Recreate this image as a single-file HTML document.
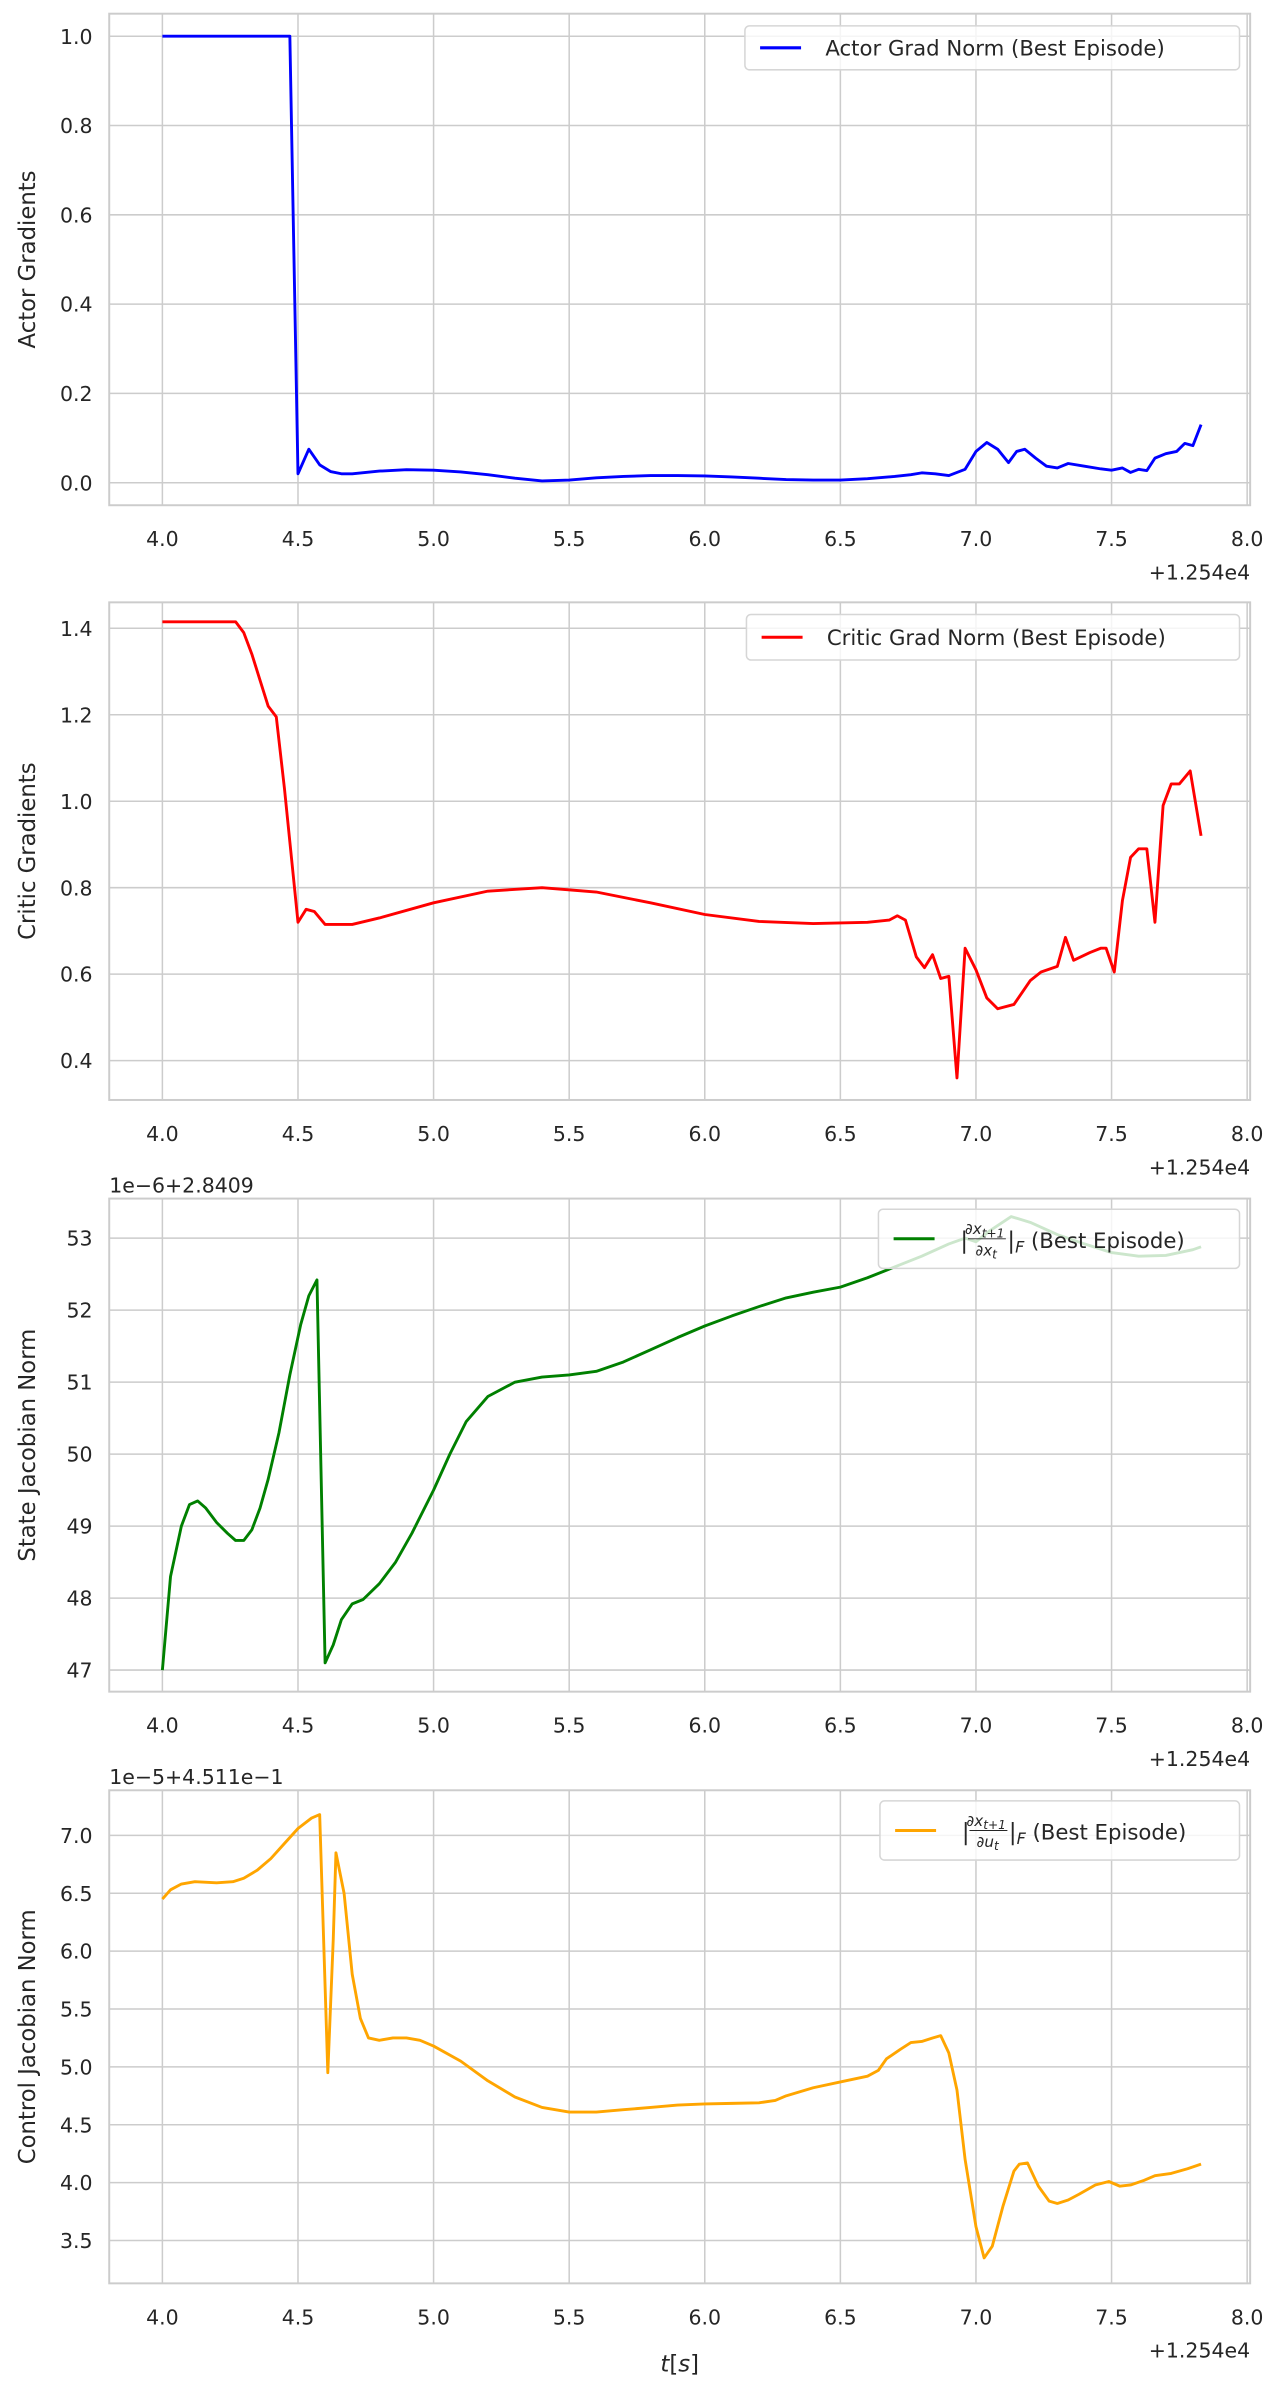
<!DOCTYPE html>
<html><head><meta charset="utf-8"><style>
html,body{margin:0;padding:0;background:#fff;}
svg{display:block;font-family:"DejaVu Sans","Liberation Sans",sans-serif;}
</style></head><body>
<svg id="chart" width="1282" height="2382" viewBox="0 0 845 1570" xmlns="http://www.w3.org/2000/svg"></svg>
<script>
const actorT=[4.0,4.47,4.5,4.54,4.58,4.62,4.66,4.7,4.8,4.9,5.0,5.1,5.2,5.3,5.4,5.5,5.6,5.7,5.8,5.9,6.0,6.1,6.2,6.3,6.4,6.5,6.6,6.7,6.76,6.8,6.85,6.9,6.96,7.0,7.04,7.08,7.12,7.15,7.18,7.22,7.26,7.3,7.34,7.4,7.46,7.5,7.54,7.57,7.6,7.63,7.66,7.7,7.74,7.77,7.8,7.83];
const actorV=[1.0,1.0,0.02,0.075,0.04,0.025,0.02,0.02,0.026,0.029,0.028,0.024,0.018,0.01,0.004,0.006,0.011,0.014,0.016,0.016,0.015,0.013,0.01,0.007,0.006,0.006,0.009,0.014,0.018,0.022,0.02,0.016,0.03,0.07,0.09,0.075,0.045,0.07,0.075,0.055,0.037,0.033,0.043,0.037,0.031,0.028,0.033,0.023,0.03,0.027,0.055,0.065,0.07,0.088,0.083,0.13];
const criticT=[4.0,4.27,4.3,4.33,4.36,4.39,4.42,4.45,4.5,4.53,4.56,4.6,4.7,4.8,5.0,5.2,5.4,5.6,5.8,6.0,6.2,6.4,6.6,6.68,6.71,6.74,6.78,6.81,6.84,6.87,6.9,6.93,6.96,7.0,7.04,7.08,7.14,7.2,7.24,7.3,7.33,7.36,7.42,7.46,7.48,7.51,7.54,7.57,7.6,7.63,7.66,7.69,7.72,7.75,7.79,7.83];
const criticV=[1.415,1.415,1.39,1.34,1.28,1.22,1.195,1.03,0.72,0.75,0.745,0.715,0.715,0.73,0.765,0.792,0.8,0.79,0.765,0.738,0.722,0.717,0.72,0.725,0.735,0.725,0.64,0.615,0.645,0.59,0.595,0.36,0.66,0.61,0.545,0.52,0.53,0.585,0.605,0.618,0.685,0.632,0.65,0.66,0.66,0.605,0.77,0.87,0.89,0.89,0.72,0.99,1.04,1.04,1.07,0.92];
const stateT=[4.0,4.03,4.07,4.1,4.13,4.16,4.2,4.24,4.27,4.3,4.33,4.36,4.39,4.43,4.47,4.51,4.54,4.57,4.6,4.63,4.66,4.7,4.74,4.8,4.86,4.92,5.0,5.06,5.12,5.2,5.3,5.4,5.5,5.6,5.7,5.8,5.9,6.0,6.1,6.2,6.3,6.4,6.5,6.6,6.7,6.8,6.9,6.96,7.0,7.05,7.13,7.2,7.3,7.4,7.5,7.6,7.7,7.8,7.83];
const stateV=[47.0,48.3,49.0,49.3,49.35,49.25,49.05,48.9,48.8,48.8,48.95,49.25,49.65,50.3,51.1,51.8,52.2,52.42,47.1,47.35,47.7,47.92,47.98,48.2,48.5,48.9,49.5,50.0,50.45,50.8,51.0,51.07,51.1,51.15,51.28,51.45,51.62,51.78,51.92,52.05,52.17,52.25,52.32,52.45,52.6,52.75,52.92,53.0,52.95,53.1,53.3,53.22,53.05,52.92,52.8,52.75,52.76,52.84,52.88];
const controlT=[4.0,4.03,4.07,4.12,4.2,4.26,4.3,4.35,4.4,4.45,4.5,4.55,4.58,4.61,4.63,4.64,4.67,4.7,4.73,4.76,4.8,4.85,4.9,4.95,5.0,5.1,5.2,5.3,5.4,5.5,5.6,5.7,5.8,5.9,6.0,6.1,6.2,6.26,6.3,6.4,6.5,6.6,6.64,6.67,6.72,6.76,6.8,6.84,6.87,6.9,6.93,6.96,7.0,7.03,7.06,7.1,7.14,7.16,7.19,7.23,7.27,7.3,7.34,7.38,7.44,7.49,7.53,7.57,7.62,7.66,7.72,7.78,7.83];
const controlV=[6.45,6.53,6.58,6.6,6.59,6.6,6.63,6.7,6.8,6.93,7.06,7.15,7.18,4.95,6.1,6.85,6.5,5.8,5.42,5.25,5.23,5.25,5.25,5.23,5.18,5.05,4.88,4.74,4.65,4.61,4.61,4.63,4.65,4.67,4.68,4.685,4.69,4.71,4.75,4.82,4.87,4.92,4.97,5.07,5.15,5.21,5.22,5.25,5.27,5.12,4.8,4.2,3.62,3.35,3.45,3.8,4.1,4.16,4.17,3.97,3.84,3.82,3.85,3.9,3.98,4.01,3.97,3.98,4.02,4.06,4.08,4.12,4.16];
const xTicks=[4.0,4.5,5.0,5.5,6.0,6.5,7.0,7.5,8.0];
const actorTicks=[0.0,0.2,0.4,0.6,0.8,1.0];
const criticTicks=[0.4,0.6,0.8,1.0,1.2,1.4];
const stateTicks=[47,48,49,50,51,52,53];
const controlTicks=[3.5,4.0,4.5,5.0,5.5,6.0,6.5,7.0];

const NS="http://www.w3.org/2000/svg";
const svg=document.getElementById('chart');
function mk(tag,attrs,parent){const e=document.createElementNS(NS,tag);for(const k in attrs)e.setAttribute(k,attrs[k]);(parent||svg).appendChild(e);return e;}
const L=72,R=824,XMIN=3.804,XMAX=8.011;
function xs(v){return L+(v-XMIN)/(XMAX-XMIN)*(R-L);}

const panels=[
 {key:'actor',top:9,bot:333,ymin:-0.0505,ymax:1.0505,ticks:actorTicks,fmt:v=>v.toFixed(1),t:actorT,v:actorV,color:'#0000ff',ylabel:'Actor Gradients',legend:'plain',ltext:'Actor Grad Norm (Best Episode)',lx:491,ly:17,lw:326,lh:29,offset:null},
 {key:'critic',top:397,bot:725,ymin:0.309,ymax:1.46,ticks:criticTicks,fmt:v=>v.toFixed(1),t:criticT,v:criticV,color:'#ff0000',ylabel:'Critic Gradients',legend:'plain',ltext:'Critic Grad Norm (Best Episode)',lx:492,ly:405,lw:325,lh:30,offset:null},
 {key:'state',top:790,bot:1115,ymin:46.7,ymax:53.55,ticks:stateTicks,fmt:v=>String(v),t:stateT,v:stateV,color:'#008000',ylabel:'State Jacobian Norm',legend:'math',den:'∂x',lx:579,ly:797,lw:238,lh:39,offset:'1e−6+2.8409'},
 {key:'control',top:1180,bot:1505,ymin:3.13,ymax:7.39,ticks:controlTicks,fmt:v=>v.toFixed(1),t:controlT,v:controlV,color:'#ffa500',ylabel:'Control Jacobian Norm',legend:'math',den:'∂u',lx:580,ly:1187,lw:237,lh:39,offset:'1e−5+4.511e−1'}
];

panels.forEach((p,i)=>{
 const g=mk('g',{});
 
 
 const ys=v=>p.bot-(v-p.ymin)/(p.ymax-p.ymin)*(p.bot-p.top);
 xTicks.forEach(t=>{const l=mk('line',{x1:xs(t),x2:xs(t),y1:p.top,y2:p.bot,stroke:'#cccccc','stroke-width':1},g);
  
  const tx=mk('text',{x:xs(t),y:p.bot+27,'text-anchor':'middle','font-size':13.5,fill:'#262626'},g);tx.textContent=t.toFixed(1);
  });
 p.ticks.forEach(t=>{const l=mk('line',{x1:L,x2:R,y1:ys(t),y2:ys(t),stroke:'#cccccc','stroke-width':1},g);
  
  const tx=mk('text',{x:L-11,y:ys(t)+5,'text-anchor':'end','font-size':13.5,fill:'#262626'},g);tx.textContent=p.fmt(t);
  });
 const fr=mk('rect',{x:L,y:p.top,width:R-L,height:p.bot-p.top,fill:'none',stroke:'#cccccc','stroke-width':1.3},g);
 
 const d=p.t.map((t,j)=>(j?'L':'M')+xs(t).toFixed(2)+','+ys(p.v[j]).toFixed(2)).join(' ');
 const pl=mk('path',{d:d,fill:'none',stroke:p.color,'stroke-width':1.9,'stroke-linejoin':'round'},g);
 
 const yc=(p.top+p.bot)/2;
 const yl=mk('text',{x:0,y:0,transform:`translate(23,${yc}) rotate(-90)`,'text-anchor':'middle','font-size':15,fill:'#262626'},g);
 yl.textContent=p.ylabel;
 const ot=mk('text',{x:R,y:p.bot+49,'text-anchor':'end','font-size':13.5,fill:'#262626'},g);ot.textContent='+1.254e4';
 
 if(p.offset){const o2=mk('text',{x:L,y:p.top-4,'font-size':13.5,fill:'#262626'},g);o2.textContent=p.offset;
  }
 const lg=mk('g',{},g);
 mk('rect',{x:p.lx,y:p.ly,width:p.lw,height:p.lh,rx:3,fill:'#ffffff','fill-opacity':0.8,stroke:'#d6d6d6','stroke-width':1},lg);
 const cy=p.ly+p.lh/2;
 const sw=mk('line',{x1:p.lx+10,x2:p.lx+37,y1:cy,y2:cy,stroke:p.color,'stroke-width':2},lg);
 
 if(p.legend==='plain'){
  const lt=mk('text',{x:p.lx+53,y:cy+5,'font-size':14,fill:'#262626'},lg);lt.textContent=p.ltext;
  
 }else{
  const bx=p.lx+54;
  const lt=mk('text',{x:bx,y:cy+6,'font-size':15,fill:'#262626'},lg);lt.textContent='|';
  
  const num=mk('text',{x:bx+16,y:cy-3,'text-anchor':'middle','font-size':10,'font-style':'italic',fill:'#262626'},lg);num.textContent='∂x';
  const ns=mk('tspan',{'font-size':8,dy:2},num);ns.textContent='t+1';
  
  mk('line',{x1:bx+5,x2:bx+30,y1:cy,y2:cy,stroke:'#262626','stroke-width':0.6},lg);
  const den=mk('text',{x:bx+17,y:cy+11,'text-anchor':'middle','font-size':10,'font-style':'italic',fill:'#262626'},lg);den.textContent=p.den;
  const ds=mk('tspan',{'font-size':8,dy:2},den);ds.textContent='t';
  
  const rest=mk('text',{x:bx+31,y:cy+6,'font-size':15,fill:'#262626'},lg);rest.textContent='|';
  const f=mk('tspan',{'font-size':10.5,'font-style':'italic',dy:3},rest);f.textContent='F';
  const r2=mk('tspan',{'font-size':14,dy:-3},rest);r2.textContent=' (Best Episode)';
  
 }
});
const xl=mk('text',{x:448,y:1563,'text-anchor':'middle','font-size':15,fill:'#262626'});
const xi=mk('tspan',{'font-style':'italic'},xl);xi.textContent='t';
const xb=mk('tspan',{},xl);xb.textContent='[';
const xs2=mk('tspan',{'font-style':'italic'},xl);xs2.textContent='s';
const xe=mk('tspan',{},xl);xe.textContent=']';


</script>
</body></html>
